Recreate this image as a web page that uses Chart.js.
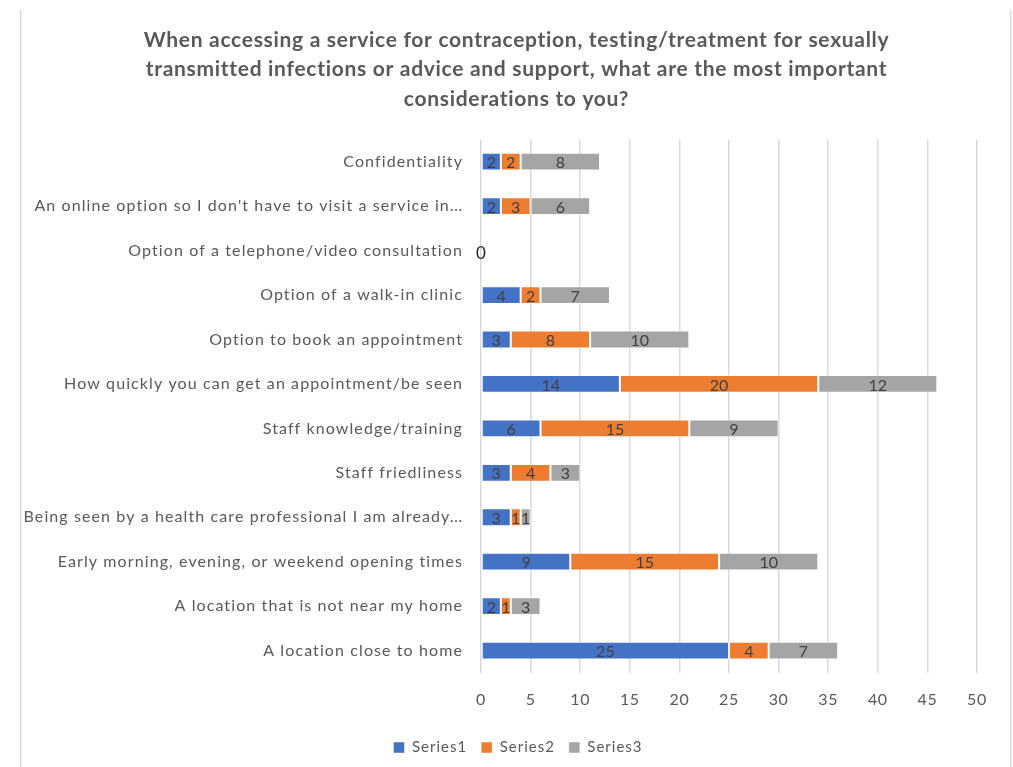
<!DOCTYPE html>
<html><head><meta charset="utf-8">
<script src="https://cdn.jsdelivr.net/npm/chart.js@4/dist/chart.umd.min.js"></script>
<style>html,body{margin:0;padding:0;background:#fff}#wrap{width:1013px;height:767px;position:relative}</style>
</head><body><div id="wrap"><canvas id="c" width="1013" height="767"></canvas></div>
<script>
const categories = [
  "Confidentiality",
  "An online option so I don't have to visit a service in…",
  "Option of a telephone/video consultation",
  "Option of a walk-in clinic",
  "Option to book an appointment",
  "How quickly you can get an appointment/be seen",
  "Staff knowledge/training",
  "Staff friedliness",
  "Being seen by a health care professional I am already…",
  "Early morning, evening, or weekend opening times",
  "A location that is not near my home",
  "A location close to home"
];
const series1 = [2, 2, 0, 4, 3, 14, 6, 3, 3, 9, 2, 25];
const series2 = [2, 3, 0, 2, 8, 20, 15, 4, 1, 15, 1, 4];
const series3 = [8, 6, 0, 7, 10, 12, 9, 3, 1, 10, 3, 7];
const seriesNames = ["Series1", "Series2", "Series3"];
const xTicks = [0, 5, 10, 15, 20, 25, 30, 35, 40, 45, 50];
const titleLines = [
  "When accessing a service for contraception, testing/treatment for sexually",
  "transmitted infections or advice and support, what are the most important",
  "considerations to you?"
];

const FONT = "Lato, 'Open Sans', sans-serif";

const labelPlugin = {
  id: 'segLabels',
  afterDatasetsDraw(chart) {
    const ctx = chart.ctx;
    ctx.save();
    ctx.letterSpacing = '0px';
    ctx.textAlign = "center";
    ctx.textBaseline = "middle";
    chart.data.datasets.forEach((ds, di) => {
      const meta = chart.getDatasetMeta(di);
      meta.data.forEach((bar, i) => {
        const v = ds.data[i];
        if (v === 0 && di !== 0) return;
        const p = bar.getProps(['x', 'y', 'base'], true);
        if (v === 0) { ctx.font = "17px " + FONT; ctx.fillStyle = "#262626"; }
        else { ctx.font = "16px " + FONT; ctx.fillStyle = "#404040"; }
        ctx.fillText(String(v), (p.x + p.base) / 2, p.y + (v === 0 ? 3 : 1.5));
      });
    });
    ctx.restore();
  }
};

function wrapMethod(obj, name, spacing, dx) {
  if (!obj || !obj[name] || obj['__w_' + name]) return;
  const orig = obj[name];
  obj[name] = function () {
    const ctx = this.ctx;
    ctx.save();
    ctx.letterSpacing = spacing;
    if (dx) ctx.translate(dx, 0);
    const r = orig.apply(this, arguments);
    ctx.restore();
    return r;
  };
  obj['__w_' + name] = true;
}

const spacingPlugin = {
  id: 'spacing',
  afterLayout(chart) {
    wrapMethod(chart.titleBlock, 'draw', '0.7px', 18);
    wrapMethod(chart.legend, 'draw', '1px', 9);
    wrapMethod(chart.scales.y, 'drawLabels', '1.1px', 0);
    wrapMethod(chart.scales.x, 'drawLabels', '0.6px', 0);
  }
};

const borderPlugin = {
  id: 'frame',
  beforeDraw(chart) {
    const ctx = chart.ctx;
    ctx.save();
    ctx.strokeStyle = "#d9d9d9";
    ctx.lineWidth = 1.5;
    ctx.beginPath();
    ctx.moveTo(20.75, 10); ctx.lineTo(20.75, 767);
    ctx.moveTo(1010.75, 10); ctx.lineTo(1010.75, 767);
    ctx.stroke();
    ctx.restore();
  }
};

const colors = ["#4472C4", "#ED7D31", "#A5A5A5"];
const allSeries = [series1, series2, series3];

new Chart(document.getElementById('c'), {
  type: 'bar',
  data: {
    labels: categories,
    datasets: allSeries.map((d, i) => ({
      label: seriesNames[i],
      data: d,
      backgroundColor: colors[i],
      borderColor: 'rgba(255,255,255,0.45)',
      borderWidth: 1,
      borderSkipped: false,
      barPercentage: 0.8,
      categoryPercentage: 0.5
    }))
  },
  options: {
    indexAxis: 'y',
    responsive: false,
    animation: false,
    layout: { padding: { left: 20, right: 36, top: 25, bottom: 2 } },
    scales: {
      x: {
        stacked: true,
        min: 0, max: 50,
        afterBuildTicks(scale) { scale.ticks = xTicks.map(v => ({ value: v })); },
        ticks: { font: { family: FONT, size: 16 }, color: "#595959", padding: 17 },
        grid: { color: "#d9d9d9", lineWidth: 1.5, drawTicks: false },
        border: { display: false }
      },
      y: {
        stacked: true,
        afterFit(scale) { scale.width = 461; },
        ticks: { font: { family: FONT, size: 16 }, color: "#595959", padding: 18, autoSkip: false },
        grid: { display: false, drawTicks: false },
        border: { display: false }
      }
    },
    plugins: {
      title: {
        display: true,
        text: titleLines,
        color: "#595959",
        font: { family: FONT, size: 21, weight: 'bold', lineHeight: 1.405 },
        padding: { top: 0, bottom: 26 }
      },
      legend: {
        position: 'bottom',
        labels: {
          font: { family: FONT, size: 15 },
          color: "#595959",
          boxWidth: 11, boxHeight: 11,
          padding: 14,
          useBorderRadius: false
        }
      },
      tooltip: { enabled: false }
    }
  },
  plugins: [labelPlugin, spacingPlugin, borderPlugin]
});
</script></body></html>
